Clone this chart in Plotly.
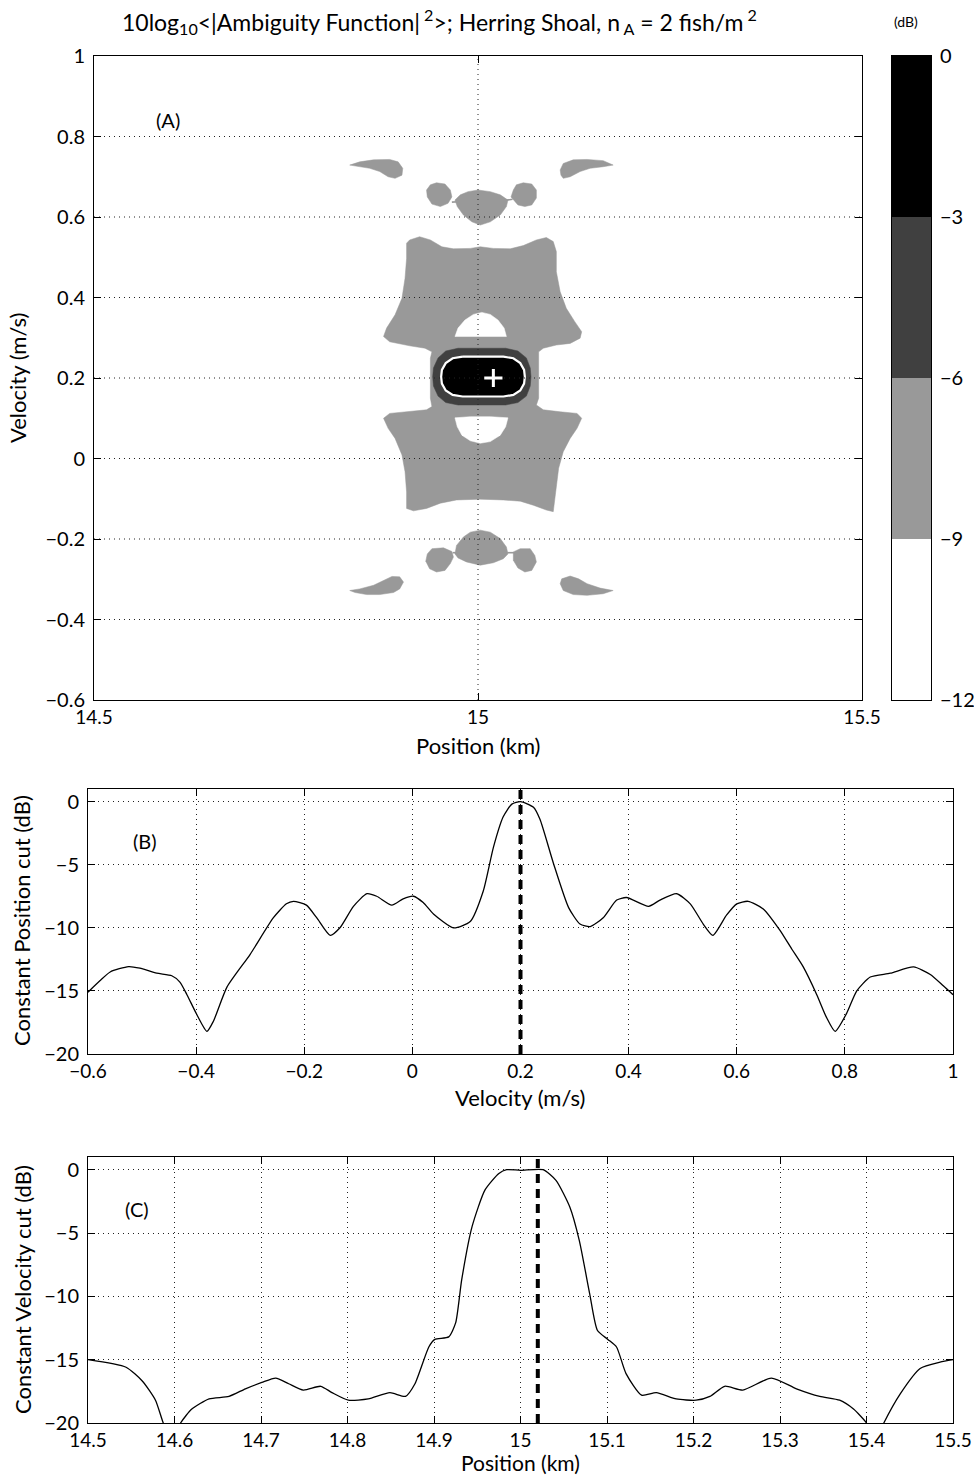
import plotly.graph_objects as go

FONT = "Lato, 'Open Sans', sans-serif"

# ---------------- Panel A : contour regions (position km, velocity m/s) ----------------
level_edges_db = [0, -3, -6, -9, -12]
level_colors = ["#000000", "#404040", "#999999", "#ffffff"]

# -9..-6 dB region (light grey)
body_pos = [14.907, 14.911, 14.924, 14.938, 14.953, 14.968, 14.990, 15.003, 15.020, 15.042, 15.059, 15.076,
            15.089, 15.098, 15.102, 15.102, 15.107, 15.115, 15.126, 15.135, 15.133, 15.120, 15.102, 15.085,
            15.079, 15.079, 15.079, 15.076, 15.085, 15.107, 15.129, 15.135, 15.129, 15.120, 15.111, 15.105,
            15.102, 15.100, 15.098, 15.089, 15.072, 15.055, 15.033, 15.003, 14.972, 14.951, 14.933, 14.916,
            14.907, 14.907, 14.905, 14.901, 14.892, 14.883, 14.877, 14.885, 14.911, 14.933, 14.940, 14.938,
            14.938, 14.940, 14.931, 14.911, 14.885, 14.877, 14.881, 14.892, 14.901, 14.905, 14.907]
body_vel = [0.535, 0.543, 0.551, 0.543, 0.526, 0.521, 0.522, 0.526, 0.522, 0.521, 0.529, 0.543,
            0.549, 0.539, 0.514, 0.464, 0.414, 0.373, 0.340, 0.315, 0.299, 0.286, 0.282, 0.274,
            0.265, 0.249, 0.150, 0.133, 0.121, 0.116, 0.112, 0.100, 0.075, 0.050, 0.017, -0.024,
            -0.066, -0.107, -0.132, -0.128, -0.116, -0.106, -0.103, -0.101, -0.103, -0.111, -0.124, -0.130,
            -0.124, -0.083, -0.033, 0.009, 0.050, 0.075, 0.100, 0.112, 0.116, 0.121, 0.129, 0.150,
            0.249, 0.265, 0.274, 0.280, 0.290, 0.303, 0.324, 0.357, 0.398, 0.448, 0.497]

far_tl_pos = [14.833, 14.846, 14.864, 14.885, 14.896, 14.902, 14.901, 14.892, 14.883, 14.872, 14.859, 14.842]
far_tl_vel = [0.729, 0.737, 0.742, 0.743, 0.737, 0.721, 0.704, 0.696, 0.700, 0.713, 0.721, 0.727]
far_tr_pos = [15.107, 15.111, 15.124, 15.142, 15.163, 15.176, 15.163, 15.146, 15.133, 15.120, 15.111, 15.108]
far_tr_vel = [0.717, 0.733, 0.742, 0.743, 0.740, 0.729, 0.725, 0.721, 0.713, 0.700, 0.696, 0.704]
far_bl_pos = [14.833, 14.846, 14.864, 14.877, 14.888, 14.898, 14.903, 14.898, 14.890, 14.872, 14.855, 14.840]
far_bl_vel = [-0.328, -0.324, -0.315, -0.303, -0.293, -0.294, -0.307, -0.324, -0.333, -0.338, -0.338, -0.333]
far_br_pos = [15.109, 15.120, 15.131, 15.142, 15.159, 15.176, 15.163, 15.142, 15.124, 15.111, 15.107]
far_br_vel = [-0.299, -0.292, -0.299, -0.311, -0.322, -0.328, -0.336, -0.340, -0.338, -0.328, -0.311]

small_tl_pos = [14.938, 14.946, 14.957, 14.964, 14.966, 14.961, 14.951, 14.940, 14.934, 14.933]
small_tl_vel = [0.680, 0.685, 0.682, 0.667, 0.650, 0.634, 0.626, 0.632, 0.650, 0.667]
small_tr_pos = [15.046, 15.050, 15.059, 15.070, 15.076, 15.076, 15.070, 15.061, 15.052, 15.046, 15.043]
small_tr_vel = [0.667, 0.680, 0.685, 0.682, 0.667, 0.647, 0.630, 0.626, 0.630, 0.642, 0.650]
small_bl_pos = [14.940, 14.955, 14.966, 14.968, 14.964, 14.957, 14.946, 14.937, 14.932, 14.934]
small_bl_vel = [-0.224, -0.222, -0.231, -0.245, -0.261, -0.278, -0.282, -0.274, -0.255, -0.237]
small_br_pos = [15.046, 15.055, 15.068, 15.074, 15.076, 15.070, 15.061, 15.052, 15.046]
small_br_vel = [-0.232, -0.224, -0.224, -0.241, -0.257, -0.278, -0.282, -0.272, -0.253]

cap_t_pos = [14.970, 14.977, 14.987, 15.000, 15.016, 15.029, 15.039, 15.037, 15.029, 15.016, 15.003, 14.992, 14.981, 14.973]
cap_t_vel = [0.642, 0.655, 0.663, 0.667, 0.663, 0.655, 0.642, 0.626, 0.605, 0.588, 0.580, 0.588, 0.605, 0.626]
cap_b_pos = [15.003, 15.016, 15.029, 15.037, 15.039, 15.033, 15.020, 15.003, 14.985, 14.974, 14.970, 14.972, 14.981, 14.990]
cap_b_vel = [-0.178, -0.183, -0.199, -0.220, -0.237, -0.249, -0.259, -0.265, -0.257, -0.247, -0.237, -0.216, -0.195, -0.183]

# thin grey bridges joining the small lobes to the caps
bridge_pos = [14.966, 14.974, None, 15.034, 15.045, None, 14.967, 14.973, None, 15.038, 15.047]
bridge_vel = [0.637, 0.638, None, 0.641, 0.644, None, -0.234, -0.234, None, -0.234, -0.234]

# -9 dB holes (white) inside the main body
hole_t_pos = [14.970, 14.974, 14.983, 14.994, 15.005, 15.016, 15.026, 15.034, 15.037]
hole_t_vel = [0.303, 0.324, 0.344, 0.358, 0.363, 0.358, 0.344, 0.324, 0.303]
hole_b_pos = [14.970, 14.990, 15.016, 15.039, 15.036, 15.029, 15.016, 15.003, 14.990, 14.979, 14.973]
hole_b_vel = [0.101, 0.104, 0.104, 0.101, 0.079, 0.058, 0.042, 0.038, 0.044, 0.058, 0.079]

# -6..-3 dB region (dark grey)
ring_pos = [14.974, 15.036, 15.052, 15.063, 15.068, 15.069, 15.068, 15.063, 15.052, 15.036,
            14.974, 14.958, 14.948, 14.942, 14.941, 14.942, 14.948, 14.958]
ring_vel = [0.274, 0.274, 0.267, 0.250, 0.225, 0.203, 0.180, 0.155, 0.139, 0.133,
            0.133, 0.139, 0.155, 0.180, 0.203, 0.225, 0.250, 0.267]
# -3..0 dB region (black)
core_pos = [14.980, 15.033, 15.046, 15.055, 15.060, 15.061, 15.060, 15.055, 15.046, 15.033,
            14.980, 14.967, 14.958, 14.953, 14.952, 14.953, 14.958, 14.967]
core_vel = [0.253, 0.253, 0.249, 0.237, 0.220, 0.203, 0.186, 0.169, 0.158, 0.154,
            0.154, 0.158, 0.169, 0.186, 0.203, 0.220, 0.237, 0.249]

# true target
target_pos = 15.02
target_vel = 0.2

a_xticks = [14.5, 15, 15.5]
a_yticks = [-0.6, -0.4, -0.2, 0, 0.2, 0.4, 0.6, 0.8, 1]

# ---------------- Panel B : constant position cut ----------------
b_vel = [-0.600, -0.578, -0.559, -0.525, -0.504, -0.473, -0.445, -0.430, -0.417, -0.399, -0.380, -0.368,
         -0.343, -0.300, -0.257, -0.233, -0.220, -0.196, -0.177, -0.152, -0.134, -0.109, -0.084, -0.066,
         -0.038, -0.017, 0.002, 0.020, 0.039, 0.076, 0.107, 0.131, 0.150, 0.168, 0.184, 0.200, 0.224,
         0.236, 0.261, 0.289, 0.310, 0.329, 0.353, 0.378, 0.396, 0.437, 0.458, 0.489, 0.514, 0.538,
         0.556, 0.581, 0.600, 0.621, 0.649, 0.680, 0.702, 0.723, 0.748, 0.766, 0.782, 0.803, 0.822,
         0.847, 0.884, 0.927, 0.958, 0.982, 1.000]
b_db = [-15.1, -14.2, -13.5, -13.07, -13.2, -13.6, -13.8, -14.3, -15.3, -16.85, -18.2, -17.4,
        -14.7, -12.1, -9.2, -8.1, -7.9, -8.2, -9.2, -10.6, -10.0, -8.3, -7.3, -7.5,
        -8.2, -7.7, -7.5, -8.0, -8.9, -10.0, -9.5, -7.1, -3.6, -1.2, -0.2, 0.0, -0.45,
        -1.4, -4.9, -8.4, -9.7, -9.9, -9.2, -7.8, -7.6, -8.3, -7.8, -7.3, -8.1, -9.7,
        -10.6, -9.0, -8.1, -7.9, -8.5, -10.2, -11.7, -13.1, -15.3, -17.1, -18.2, -16.8, -15.0,
        -13.9, -13.6, -13.1, -13.7, -14.6, -15.3]
b_xticks = [-0.6, -0.4, -0.2, 0, 0.2, 0.4, 0.6, 0.8, 1]
db_ticks = [0, -5, -10, -15, -20]
db_range = [-20, 1]

# ---------------- Panel C : constant velocity cut ----------------
c_pos = [14.500, 14.544, 14.563, 14.578, 14.587, 14.597, 14.607, 14.620, 14.640, 14.663, 14.682, 14.701,
         14.717, 14.732, 14.749, 14.769, 14.782, 14.801, 14.824, 14.849, 14.867, 14.878, 14.894, 14.901,
         14.917, 14.925, 14.932, 14.944, 14.959, 14.975, 14.984, 15.000, 15.026, 15.041, 15.057, 15.068,
         15.080, 15.089, 15.101, 15.111, 15.122, 15.140, 15.157, 15.180, 15.203, 15.219, 15.236, 15.257,
         15.290, 15.319, 15.346, 15.369, 15.385, 15.400, 15.410, 15.420, 15.439, 15.462, 15.485, 15.500]
c_db = [-15.0, -15.6, -16.7, -18.2, -20.0, -21.5, -20.0, -18.9, -18.1, -17.9, -17.3, -16.8,
        -16.45, -16.9, -17.4, -17.1, -17.6, -18.2, -18.1, -17.6, -17.9, -16.9, -14.0, -13.4,
        -13.2, -12.1, -8.7, -4.5, -1.6, -0.3, 0.0, -0.05, 0.0, -0.85, -2.95, -5.6,
        -9.8, -12.7, -13.4, -14.0, -16.1, -17.8, -17.6, -18.1, -18.2, -17.9, -17.1, -17.4,
        -16.45, -17.3, -17.9, -18.2, -18.9, -20.0, -21.5, -20.0, -17.7, -15.7, -15.2, -15.0]
c_xticks = [14.5, 14.6, 14.7, 14.8, 14.9, 15.0, 15.1, 15.2, 15.3, 15.4, 15.5]
c_xticktext = ["14.5", "14.6", "14.7", "14.8", "14.9", "15", "15.1", "15.2", "15.3", "15.4", "15.5"]

# ---------------- figure ----------------
fig = go.Figure()
GRID = "#222222"
DOT = "1px,4px"


def poly(px, vy, fill, line_color=None, line_width=0):
    fig.add_trace(go.Scatter(x=px + [px[0]], y=vy + [vy[0]], mode="lines", fill="toself",
                             fillcolor=fill, line=dict(color=line_color or fill, width=line_width),
                             hoverinfo="skip", showlegend=False, xaxis="x", yaxis="y"))


light = level_colors[2]
for px, vy in [(body_pos, body_vel), (far_tl_pos, far_tl_vel), (far_tr_pos, far_tr_vel),
               (far_bl_pos, far_bl_vel), (far_br_pos, far_br_vel), (small_tl_pos, small_tl_vel),
               (small_tr_pos, small_tr_vel), (small_bl_pos, small_bl_vel), (small_br_pos, small_br_vel),
               (cap_t_pos, cap_t_vel), (cap_b_pos, cap_b_vel)]:
    poly(px, vy, light, light, 0.5)
fig.add_trace(go.Scatter(x=bridge_pos, y=bridge_vel, mode="lines", line=dict(color=light, width=1.6),
                         hoverinfo="skip", showlegend=False, xaxis="x", yaxis="y"))
for px, vy in [(hole_t_pos, hole_t_vel), (hole_b_pos, hole_b_vel)]:
    poly(px, vy, level_colors[3], level_colors[3], 0.5)
poly(ring_pos, ring_vel, level_colors[1], level_colors[1], 0.5)
poly(core_pos, core_vel, level_colors[0], "#ffffff", 2.2)

# grid of panel A drawn above the filled contours
gx, gy = [], []
for t in a_yticks[1:-1]:
    gx += [a_xticks[0], a_xticks[-1], None]
    gy += [t, t, None]
for t in a_xticks[1:-1]:
    gx += [t, t, None]
    gy += [a_yticks[0], a_yticks[-1], None]
fig.add_trace(go.Scatter(x=gx, y=gy, mode="lines", line=dict(color=GRID, width=1, dash=DOT),
                         hoverinfo="skip", showlegend=False, xaxis="x", yaxis="y"))
fig.add_trace(go.Scatter(x=[target_pos], y=[target_vel], mode="markers",
                         marker=dict(symbol="cross-thin", size=13, line=dict(color="white", width=3)),
                         hoverinfo="skip", showlegend=False, xaxis="x", yaxis="y"))

# colour bar (panel A)
mids = [(level_edges_db[i] + level_edges_db[i + 1]) / 2 for i in range(4)]
cscale = []
for i, c in enumerate(reversed(level_colors)):
    cscale += [[i / 4, c], [(i + 1) / 4, c]]
fig.add_trace(go.Heatmap(z=[[m] for m in mids], y=mids, x=[0], zmin=-12, zmax=0, colorscale=cscale,
                         showscale=False, hoverinfo="skip", xaxis="x4", yaxis="y4"))

# panel B
fig.add_trace(go.Scatter(x=[target_vel, target_vel], y=db_range, mode="lines",
                         line=dict(color="black", width=4, dash="9px,6px"),
                         hoverinfo="skip", showlegend=False, xaxis="x2", yaxis="y2"))
fig.add_trace(go.Scatter(x=b_vel, y=b_db, mode="lines", line=dict(color="black", width=1.3, shape="spline", smoothing=0.6),
                         hoverinfo="skip", showlegend=False, xaxis="x2", yaxis="y2"))
# panel C
fig.add_trace(go.Scatter(x=[target_pos, target_pos], y=db_range, mode="lines",
                         line=dict(color="black", width=4, dash="9px,6px"),
                         hoverinfo="skip", showlegend=False, xaxis="x3", yaxis="y3"))
fig.add_trace(go.Scatter(x=c_pos, y=c_db, mode="lines", line=dict(color="black", width=1.3, shape="spline", smoothing=0.6),
                         hoverinfo="skip", showlegend=False, xaxis="x3", yaxis="y3"))

W, H = 974, 1477
TICKF = dict(family=FONT, size=20, color="black")
XTICKF = dict(family=FONT, size=19, color="black")
base = dict(showline=True, linecolor="black", linewidth=1, mirror="ticks", ticks="inside", ticklen=7,
            tickcolor="black", zeroline=False, automargin=False)
xcommon = dict(base, tickfont=XTICKF, ticklabelstandoff=0)
ycommon = dict(base, tickfont=TICKF, ticklabelstandoff=4)

fig.update_layout(
    template="none",
    width=W, height=H, margin=dict(l=0, r=0, t=0, b=0, autoexpand=False), paper_bgcolor="white",
    plot_bgcolor="white", font=dict(family=FONT, color="black"), showlegend=False,
    xaxis=dict(domain=[94 / W, 862 / W], range=[14.5, 15.5], tickvals=a_xticks, ticktext=["14.5", "15", "15.5"],
               showgrid=False, anchor="y", **xcommon),
    yaxis=dict(domain=[1 - 700 / H, 1 - 56 / H], range=[-0.6, 1], tickvals=a_yticks, showgrid=False,
               anchor="x", **ycommon),
    xaxis2=dict(domain=[88 / W, 953 / W], range=[-0.6, 1], tickvals=b_xticks, showgrid=True,
                gridcolor=GRID, griddash=DOT, gridwidth=1, anchor="y2", **xcommon),
    yaxis2=dict(domain=[1 - 1054 / H, 1 - 789 / H], range=db_range, tickvals=db_ticks, showgrid=True,
                gridcolor=GRID, griddash=DOT, gridwidth=1, anchor="x2", **ycommon),
    xaxis3=dict(domain=[88 / W, 953 / W], range=[14.5, 15.5], tickvals=c_xticks, ticktext=c_xticktext,
                showgrid=True, gridcolor=GRID, griddash=DOT, gridwidth=1, anchor="y3", **xcommon),
    yaxis3=dict(domain=[1 - 1423 / H, 1 - 1157 / H], range=db_range, tickvals=db_ticks, showgrid=True,
                gridcolor=GRID, griddash=DOT, gridwidth=1, anchor="x3", **ycommon),
    xaxis4=dict(domain=[892 / W, 931 / W], range=[-0.5, 0.5], showline=True, linecolor="black", mirror=True,
                showticklabels=False, ticks="", showgrid=False, zeroline=False, anchor="y4", automargin=False),
    yaxis4=dict(domain=[1 - 700 / H, 1 - 56 / H], range=[-12, 0], tickvals=level_edges_db, side="right",
                showline=True, linecolor="black", mirror=True, ticks="", showgrid=False, zeroline=False,
                tickfont=TICKF, anchor="x4", automargin=False, ticklabelstandoff=4),
)

ann = [
    dict(text="10log<sub>10</sub>&lt;|Ambiguity Function|<sup> 2</sup>&gt;; Herring Shoal, n<sub> A</sub> = 2 fish/m<sup> 2</sup>",
         x=439 / W, y=1 - 22 / H, font=dict(size=23)),
    dict(text="(dB)", x=906 / W, y=1 - 22 / H, font=dict(size=14)),
    dict(text="Position (km)", x=478 / W, y=1 - 745 / H, font=dict(size=22)),
    dict(text="Velocity (m/s)", x=18 / W, y=1 - 378 / H, textangle=-90, font=dict(size=22)),
    dict(text="Velocity (m/s)", x=520 / W, y=1 - 1097 / H, font=dict(size=22)),
    dict(text="Constant Position cut (dB)", x=22 / W, y=1 - 921 / H, textangle=-90, font=dict(size=22)),
    dict(text="Position (km)", x=520 / W, y=1 - 1462 / H, font=dict(size=21)),
    dict(text="Constant Velocity cut (dB)", x=22 / W, y=1 - 1290 / H, textangle=-90, font=dict(size=22)),
]
for a in ann:
    a.update(xref="paper", yref="paper", showarrow=False, xanchor="center", yanchor="middle")
    a["font"] = dict(family=FONT, color="black", **a["font"])
    fig.add_annotation(**a)

for txt, xr, yr, xv, yv in [("(A)", "x", "y", 14.596, 0.84), ("(B)", "x2", "y2", -0.495, -3.1),
                            ("(C)", "x3", "y3", 14.557, -3.1)]:
    fig.add_annotation(text=txt, x=xv, y=yv, xref=xr, yref=yr, showarrow=False,
                       font=dict(family=FONT, size=20, color="black"))

fig.write_html("out.html")
